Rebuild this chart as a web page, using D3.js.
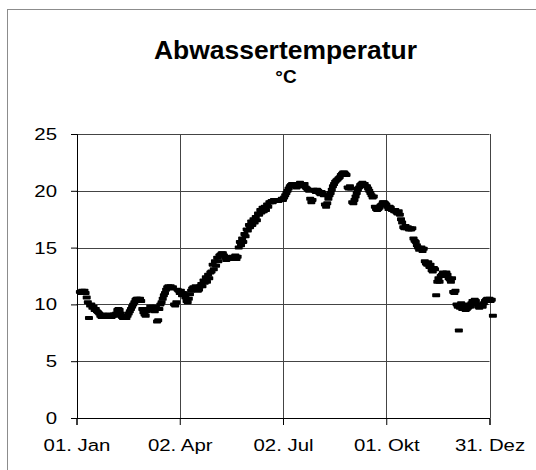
<!DOCTYPE html>
<html>
<head>
<meta charset="utf-8">
<script src="https://cdn.jsdelivr.net/npm/d3@7"></script>
<style>
  html, body { margin: 0; padding: 0; background: #fff; }
  svg { display: block; }
  text { font-family: "Liberation Sans", Arial, sans-serif; fill: #000; }
</style>
</head>
<body>
<svg id="chart" width="536" height="470"></svg>
<script>
// ---- data ----
const titleText = "Abwassertemperatur";
const unitText = "°C";
const xTickDays = [0, 91, 182, 273, 364];
const xTickLabels = ["01. Jan", "02. Apr", "02. Jul", "01. Okt", "31. Dez"];
const yTickValues = [0, 5, 10, 15, 20, 25];
const firstDay = 3; // series starts 04. Jan (daily values)
const temps = [
  11.1, 11.0, 11.2, 11.1, 11.2, 11.0,
  10.6, 10.2,
  8.8,
  9.9, 10.0, 9.7, 9.8, 9.5, 9.6, 9.4, 9.3, 9.2,
  9.0, 8.9, 9.1, 9.0, 8.9, 9.0, 9.0, 8.9, 9.1, 9.0, 8.9, 9.0, 9.1, 9.0, 9.2,
  9.5, 9.6, 9.5,
  9.2, 8.9, 8.8, 8.8, 8.9, 8.8, 9.0,
  9.2, 9.4, 9.6, 9.8, 10.0, 10.2, 10.4, 10.5, 10.5, 10.4,
  10.5, 10.3,
  9.6, 9.3, 9.1, 9.0, 9.4, 9.6, 9.5, 9.8,
  9.6, 9.8, 9.7, 9.4, 9.8, 8.5, 8.6,
  9.6, 10.0, 10.2, 10.5, 10.8, 11.0, 11.3, 11.5,
  11.6, 11.5, 11.6, 11.4, 11.5,
  10.0, 9.9, 10.2,
  11.3, 11.2, 11.0, 11.2,
  10.8, 11.0, 10.9, 10.6, 10.3, 10.2, 10.5, 10.9,
  11.2, 11.4, 11.5, 11.3, 11.6, 11.5, 11.2, 11.3, 11.6, 11.8,
  11.6, 12.1, 11.9, 12.4, 12.0, 12.6, 12.3, 12.8,
  12.9, 13.5, 13.1, 13.8, 13.4, 14.1, 13.8,
  14.3, 14.4, 14.5, 14.5, 14.3, 14.1, 13.9,
  14.0, 14.1, 14.0, 14.1, 14.2, 14.0, 14.1, 14.3, 14.0, 14.2,
  15.0, 15.5, 15.2, 15.8, 15.5, 16.2, 16.0, 16.6,
  16.5, 17.0, 16.8, 17.3, 17.0, 17.5, 17.2, 17.7, 17.4, 18.0,
  17.9, 18.3, 18.1, 18.5, 18.2, 18.6, 18.3, 18.8, 18.6, 19.0,
  19.0, 19.1, 19.0, 19.2, 19.1, 19.2, 19.2, 19.1, 19.2, 19.2, 19.3, 19.2, 19.4, 19.6, 19.8,
  20.0, 20.2, 20.4, 20.5, 20.6, 20.4, 20.5, 20.6, 20.3, 20.5,
  20.6, 20.7, 20.6, 20.5, 20.4, 20.6, 20.3, 20.2, 20.1, 20.0,
  19.3, 19.0, 19.2,
  20.1, 20.0, 19.9, 20.1, 20.0, 19.8, 19.7, 19.9, 19.8, 19.6,
  18.8, 18.6, 18.9, 19.3,
  19.6, 19.8, 20.1, 20.4, 20.6, 20.8, 20.9, 21.0, 21.1, 21.2,
  21.4, 21.5, 21.6, 21.6, 21.5, 21.4,
  20.3, 20.2, 20.4, 20.2,
  19.0, 18.9, 19.2, 19.5,
  19.8, 20.1, 20.3, 20.5, 20.6, 20.7, 20.6, 20.6, 20.4,
  20.4, 20.2, 20.0, 19.8, 19.6,
  19.4, 19.5, 18.6, 18.4,
  18.3, 18.4, 18.5, 18.7, 18.8, 19.0,
  19.0, 18.9, 18.8, 18.6, 18.4, 18.6, 18.5, 18.3,
  18.3, 18.2, 18.3, 18.1, 18.0, 18.2, 17.9,
  17.5, 17.2, 16.8, 16.7, 16.9,
  16.7, 16.8, 16.6, 16.7, 16.6, 16.7,
  15.8, 15.6, 15.5, 15.2, 15.0,
  14.8, 14.9, 15.0, 14.7, 14.9,
  13.8, 13.6, 13.5, 13.7, 13.3, 13.5,
  13.0, 12.9, 13.2, 13.1,
  10.8,
  12.0, 12.3, 12.0,
  12.5, 12.6, 12.8, 12.7, 12.5, 12.8, 12.6,
  12.3, 12.2, 12.0, 12.3,
  11.1, 11.0, 11.2,
  10.0, 9.8, 7.7, 9.7, 10.1,
  9.6, 9.8, 10.0, 9.5, 9.6, 9.7, 9.9, 9.8, 10.1,
  10.3, 10.2, 10.4, 10.3, 10.0,
  9.8, 9.7, 9.9, 10.0, 9.8,
  10.1, 10.3, 10.4, 10.5, 10.4,
  10.5, 10.3, 10.4, 9.0
];

// ---- layout ----
const plot = { left: 76.5, right: 489.5, top: 134, bottom: 418 };
const svg = d3.select("#chart");

// outer frame (left and top edges visible)
svg.append("rect")
  .attr("x", 7.5).attr("y", 9.5)
  .attr("width", 560).attr("height", 500)
  .attr("fill", "#fff").attr("stroke", "#8c8c8c").attr("stroke-width", 1);

const x = d3.scaleLinear().domain([0, 364]).range([plot.left, plot.right]);
const y = d3.scaleLinear().domain([0, 25]).range([plot.bottom, plot.top]);

// gridlines
const grid = svg.append("g");
grid.selectAll("line.h").data(yTickValues.filter(v => v > 0)).join("line")
  .attr("x1", plot.left).attr("x2", plot.right)
  .attr("y1", d => Math.round(y(d)) + 0.5).attr("y2", d => Math.round(y(d)) + 0.5)
  .attr("stroke", "#444").attr("stroke-width", 1);
grid.selectAll("line.v").data(xTickDays.filter(v => v > 0)).join("line")
  .attr("y1", plot.top).attr("y2", plot.bottom)
  .attr("x1", d => Math.round(x(d)) + 0.5).attr("x2", d => Math.round(x(d)) + 0.5)
  .attr("stroke", "#444").attr("stroke-width", 1);

// axes
const yAxis = d3.axisLeft(y).tickValues(yTickValues).tickSize(6).tickPadding(14).tickFormat(d3.format("d"));
const xAxis = d3.axisBottom(x).tickValues(xTickDays).tickSize(7).tickPadding(12)
  .tickFormat((d, i) => xTickLabels[i]);

const gy = svg.append("g").attr("transform", `translate(${Math.round(plot.left)},0)`).call(yAxis);
const gx = svg.append("g").attr("transform", `translate(0,${plot.bottom})`).call(xAxis);
[gy, gx].forEach(g => {
  g.select(".domain").attr("stroke", "#000").attr("stroke-width", 1);
  g.selectAll(".tick line").attr("stroke", "#000");
  g.selectAll(".tick text")
    .style("font-family", '"Liberation Sans", Arial, sans-serif')
    .style("font-size", "17px").attr("fill", "#000");
});
// horizontally stretched label glyphs like the reference
gy.selectAll(".tick text").each(function () {
  const t = d3.select(this);
  const xPos = +t.attr("x");
  t.attr("x", null).attr("transform", `translate(${xPos},0) scale(1.2,1)`);
});
gx.selectAll(".tick text").each(function () {
  const t = d3.select(this);
  const yPos = +t.attr("y");
  t.attr("y", null).attr("dy", null)
   .attr("transform", `translate(0,${yPos + 14}) scale(1.2,1)`);
});

// markers (dashes)
svg.append("g").selectAll("rect").data(temps).join("rect")
  .attr("x", (d, i) => x(firstDay + i) - 4)
  .attr("y", d => y(d) - 2)
  .attr("width", 8).attr("height", 4)
  .attr("rx", 0.8)
  .attr("fill", "#000");

// titles
svg.append("text").attr("x", 285.5).attr("y", 58.5)
  .attr("text-anchor", "middle")
  .style("font-size", "25px").style("font-weight", "bold")
  .attr("textLength", 263).attr("lengthAdjust", "spacingAndGlyphs")
  .text(titleText);
svg.append("text").attr("x", 286).attr("y", 83)
  .attr("text-anchor", "middle")
  .style("font-size", "19px").style("font-weight", "bold")
  .text(unitText);
</script>
</body>
</html>
